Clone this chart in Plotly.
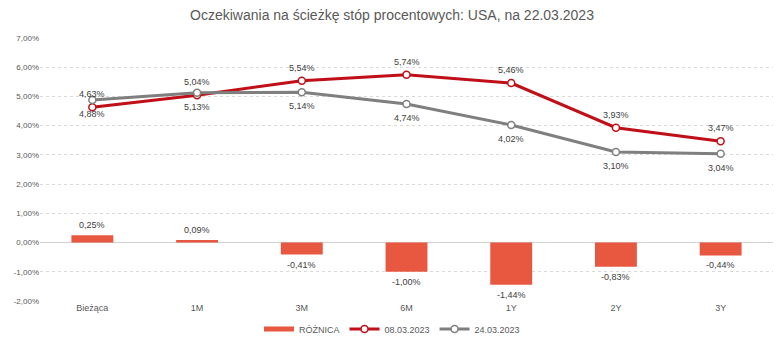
import plotly.graph_objects as go

categories = ["Bieżąca", "1M", "3M", "6M", "1Y", "2Y", "3Y"]
roznica = [0.25, 0.09, -0.41, -1.00, -1.44, -0.83, -0.44]
s_0803 = [4.63, 5.04, 5.54, 5.74, 5.46, 3.93, 3.47]
s_2403 = [4.88, 5.13, 5.14, 4.74, 4.02, 3.10, 3.04]
y_ticks = [-2, -1, 0, 1, 2, 3, 4, 5, 6, 7]
y_tick_labels = ["-2,00%", "-1,00%", "0,00%", "1,00%", "2,00%", "3,00%", "4,00%", "5,00%", "6,00%", "7,00%"]

FONT = "Liberation Sans, Arial, sans-serif"
TXT = "#595959"
LBL = "#404040"
BAR_C = "#E8573F"
RED = "#C00F17"
GRAY = "#7F7F7F"


def fmt(v):
    return f"{v:.2f}".replace(".", ",") + "%"


fig = go.Figure()
fig.add_trace(go.Bar(
    x=categories, y=roznica, name="RÓŻNICA", showlegend=False,
    marker=dict(color=BAR_C, line=dict(width=0)),
    width=0.4, cliponaxis=False,
))
# legend entry for the bar series (wide rectangle swatch)
fig.add_trace(go.Scatter(
    x=[None], y=[None], name="RÓŻNICA", mode="lines",
    line=dict(color=BAR_C, width=5), showlegend=True,
))
fig.add_trace(go.Scatter(
    x=categories, y=s_0803, name="08.03.2023", mode="lines+markers",
    line=dict(color=RED, width=3),
    marker=dict(symbol="circle", size=7, color="white", line=dict(color=RED, width=1.5)),
    cliponaxis=False,
))
fig.add_trace(go.Scatter(
    x=categories, y=s_2403, name="24.03.2023", mode="lines+markers",
    line=dict(color=GRAY, width=3),
    marker=dict(symbol="circle", size=7, color="white", line=dict(color=GRAY, width=1.5)),
    cliponaxis=False,
))

annotations = []
for c, v in zip(categories, s_0803):
    annotations.append(dict(x=c, y=v, text=fmt(v), showarrow=False, yshift=13,
                            font=dict(size=9, color=LBL, family=FONT)))
for c, v in zip(categories, s_2403):
    annotations.append(dict(x=c, y=v, text=fmt(v), showarrow=False, yshift=-14,
                            font=dict(size=9, color=LBL, family=FONT)))
for c, v in zip(categories, roznica):
    annotations.append(dict(x=c, y=v, text=fmt(v), showarrow=False,
                            yshift=10 if v >= 0 else -10,
                            font=dict(size=9, color=LBL, family=FONT)))

fig.update_layout(
    width=784, height=341,
    margin=dict(l=40, r=11, t=38, b=40),
    paper_bgcolor="white", plot_bgcolor="white",
    font=dict(family=FONT, size=9, color=TXT),
    title=dict(text="Oczekiwania na ścieżkę stóp procentowych: USA, na 22.03.2023",
               x=0.5, xanchor="center", y=0.955, yanchor="middle",
               font=dict(size=14, color=TXT, family=FONT)),
    showlegend=True,
    legend=dict(orientation="h", x=0.5, xanchor="center", xref="container",
                y=1 - 329 / 341, yanchor="middle", yref="container",
                font=dict(size=9, color=TXT, family=FONT), traceorder="normal",
                itemwidth=30, tracegroupgap=0),
    annotations=annotations,
    bargap=0.6,
)
fig.update_xaxes(showgrid=False, showline=False, ticks="", automargin=False,
                 tickfont=dict(size=9, color=TXT))
fig.update_yaxes(range=[-2, 7], tickvals=y_ticks, ticktext=y_tick_labels, automargin=False,
                 showgrid=True, gridcolor="#D9D9D9", griddash="dot", gridwidth=1,
                 zeroline=True, zerolinecolor="#D0D0D0", zerolinewidth=1,
                 showline=False, ticks="", tickfont=dict(size=8, color=TXT))

fig.write_html("out.html")
